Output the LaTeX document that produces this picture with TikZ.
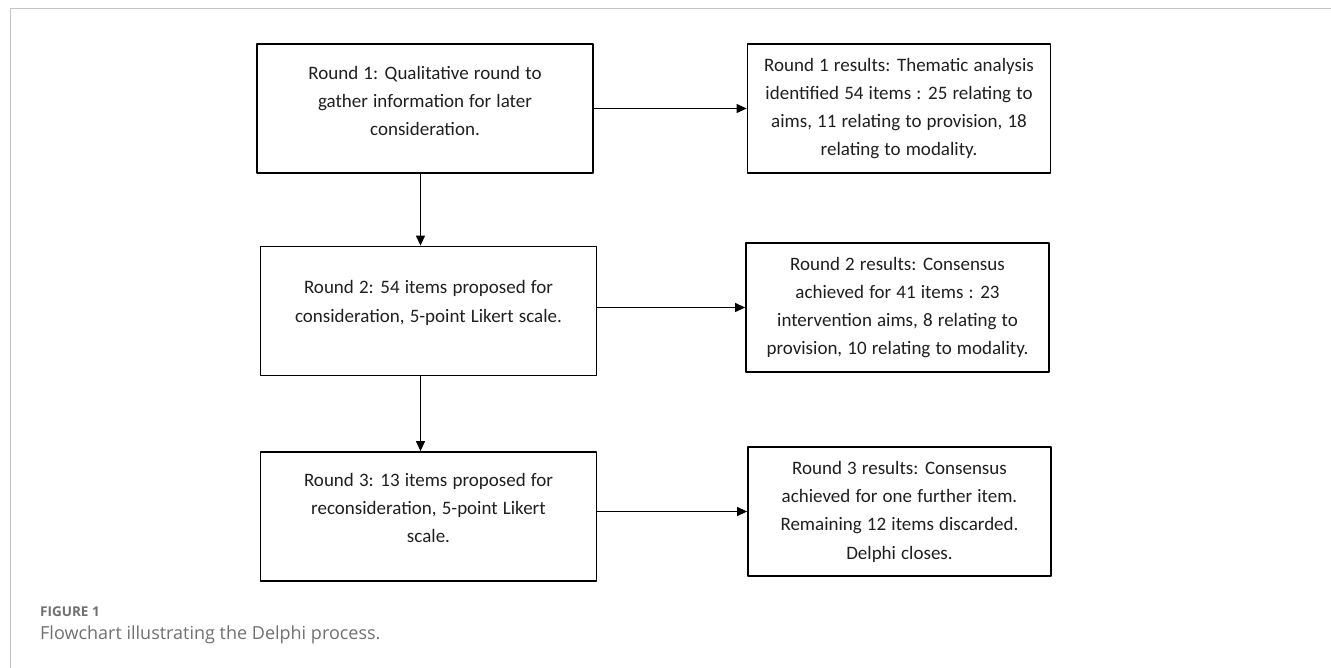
\documentclass[tikz,border=0pt]{standalone}
\usepackage{fontspec}
\setmainfont{Carlito}[WordSpace=1.2]
\newfontfamily\capfont{Open Sans}
\usetikzlibrary{arrows.meta,positioning}
\definecolor{framegray}{HTML}{C4C4C4}
\definecolor{capgray}{HTML}{707070}
\tikzset{
  roundbox/.style={draw=black, line width=1.8pt, minimum width=336pt, minimum height=129pt, inner sep=0pt},
  resultbox/.style={roundbox, minimum width=303pt, align=center, font=\fontsize{19}{28.3}\selectfont, text=black!88},
  boxtext/.style={align=center, inner sep=0pt, font=\fontsize{19}{28.3}\selectfont, text=black!88},
  flow/.style={line width=1.2pt, -{Triangle[length=10pt,width=9pt]}}
}
\begin{document}
\begin{tikzpicture}[x=1pt, y=-1pt, line join=round]
  \useasboundingbox (0,0) rectangle (1331,668);
  % frame
  \draw[framegray, line width=1pt] (10,668) -- (10,9) -- (1331,9);
  % rounds
  \node[roundbox] (b1) at (425,108.5) {};
  \node[boxtext] (b1text) at ([yshift=7.5pt]b1.center) {Round 1: Qualitative round to\\gather information for later\\consideration.};
  \node[roundbox] (b2) at (428.5,311) {};
  \node[boxtext] (b2text) at ([yshift=8pt]b2.center) {Round 2: 54 items proposed for\\consideration, 5-point Likert scale.};
  \node[roundbox] (b3) at (428.5,516.5) {};
  \node[boxtext] (b3text) at ([yshift=8.5pt]b3.center) {Round 3: 13 items proposed for\\reconsideration, 5-point Likert\\scale.};
  % results
  \node[resultbox] (r1) at (899,108.5) {Round 1 results: Thematic analysis\\identified 54 items : 25 relating to\\aims, 11 relating to provision, 18\\relating to modality.};
  \node[resultbox] (r2) at (897.5,307.5) {Round 2 results: Consensus\\achieved for 41 items : 23\\intervention aims, 8 relating to\\provision, 10 relating to modality.};
  \node[resultbox] (r3) at (899.5,511.5) {Round 3 results: Consensus\\achieved for one further item.\\Remaining 12 items discarded.\\Delphi closes.};
  % arrows
  \draw[flow] ([xshift=-4.5pt]b1.south) -- ([xshift=-4.5pt]b1.south |- b2.north);
  \draw[flow] ([xshift=-8pt]b2.south) -- ([xshift=-8pt]b2.south |- b3.north);
  \foreach \l/\r in {b1/r1, b2/r2, b3/r3}
    \draw[flow] (\r -| \l.east) -- (\r.west);
  % caption
  \node[anchor=base west, inner sep=0pt, text=capgray, font=\capfont\bfseries\fontsize{13.5}{14}\selectfont] (figlabel) at (40,616) {FIGURE 1};
  \node[anchor=base west, inner sep=0pt, text=capgray, font=\capfont\fontsize{18}{19}\selectfont] (figcaption) at (40,639) {Flowchart illustrating the Delphi process.};
\end{tikzpicture}
\end{document}
